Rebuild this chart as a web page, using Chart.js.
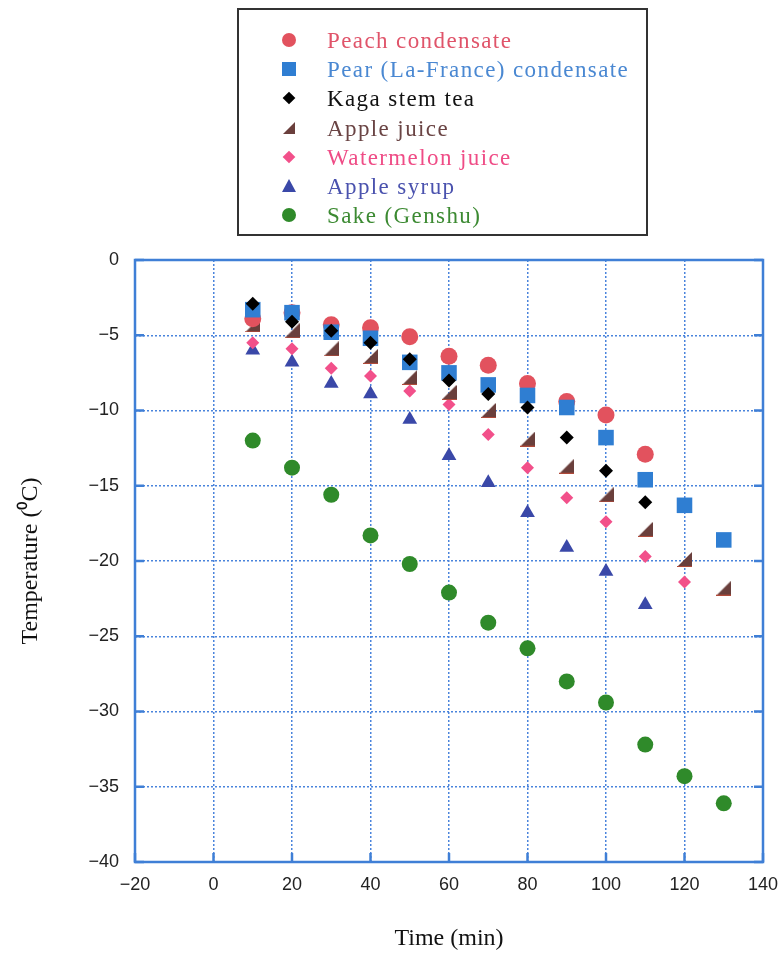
<!DOCTYPE html>
<html>
<head>
<meta charset="utf-8">
<script src="https://cdn.jsdelivr.net/npm/chart.js@4/dist/chart.umd.min.js"></script>
<style>
  html, body { margin: 0; padding: 0; background: #fff; }
  #wrap { position: relative; width: 778px; height: 957px; }
  #legend {
    position: absolute; left: 237px; top: 8px; width: 407px; height: 224px;
    border: 2px solid #333; box-sizing: content-box;
    font-family: "Liberation Serif", serif; font-size: 23px; letter-spacing: 1.4px;
  }
  #legend .row { position: absolute; left: 0; height: 29px; line-height: 29px; white-space: nowrap; }
  #legend .mk { position: absolute; left: 50px; top: 14px; }
  #legend .txt { position: absolute; left: 88px; top: 0; }
</style>
</head>
<body>
<div id="wrap">
  <canvas id="myCanvas" width="778" height="957"></canvas>
  <div id="legend"></div>
</div>
<script>
// temperature readings, every 10 min
const times = [10, 20, 30, 40, 50, 60, 70, 80, 90, 100, 110, 120, 130];

const peach = [-3.9, -3.5, -4.3, -4.5, -5.1, -6.4, -7.0, -8.2, -9.4, -10.3, -12.9];
const pear = [-3.3, -3.5, -4.8, -5.2, -6.8, -7.5, -8.3, -9.0, -9.8, -11.8, -14.6, -16.3, -18.6];
const kaga = [-2.9, -4.1, -4.7, -5.5, -6.6, -8.0, -8.9, -9.8, -11.8, -14.0, -16.1];
const appleJuice = [-4.3, -4.7, -5.9, -6.4, -7.8, -8.8, -10.0, -11.9, -13.7, -15.6, -17.9, -19.9, -21.8];
const watermelon = [-5.5, -5.9, -7.2, -7.7, -8.7, -9.6, -11.6, -13.8, -15.8, -17.4, -19.7, -21.4];
const appleSyrup = [-6.0, -6.8, -8.2, -8.9, -10.6, -13.0, -14.8, -16.8, -19.1, -20.7, -22.9];
const sake = [-12.0, -13.8, -15.6, -18.3, -20.2, -22.1, -24.1, -25.8, -28.0, -29.4, -32.2, -34.3, -36.1];

const seriesNames = ["Peach condensate", "Pear (La-France) condensate", "Kaga stem tea",
    "Apple juice", "Watermelon juice", "Apple syrup", "Sake (Genshu)"];
const xTicks = [-20, 0, 20, 40, 60, 80, 100, 120, 140];
const yTicks = [0, -5, -10, -15, -20, -25, -30, -35, -40];

// right-angled triangle marker for apple juice
function rightTriangle(size, color) {
    const c = document.createElement("canvas");
    c.width = size; c.height = size;
    const g = c.getContext("2d");
    g.fillStyle = color;
    g.beginPath();
    g.moveTo(size, 0);
    g.lineTo(size, size);
    g.lineTo(0, size);
    g.closePath();
    g.fill();
    g.strokeStyle = "#b04a3a";
    g.lineWidth = 1;
    g.beginPath();
    g.moveTo(0, size - 0.5);
    g.lineTo(size, size - 0.5);
    g.stroke();
    return c;
}

function pts(values) {
    return values.map((v, i) => ({ x: times[i], y: v }));
}

const blue = "#3f7fd6";
const minus = v => String(v).replace("-", "\u2212");

const datasets = [
    { label: seriesNames[0], data: pts(peach), pointStyle: "circle", pointRadius: 8.5, backgroundColor: "#e2525e", order: 3, txt: "#e0546a", mk: "circle" },
    { label: seriesNames[1], data: pts(pear), pointStyle: "rect", pointRadius: 11, backgroundColor: "#2f7ed2", order: 2, txt: "#4a88d2", mk: "square" },
    { label: seriesNames[2], data: pts(kaga), pointStyle: "rectRot", pointRadius: 7, backgroundColor: "#000000", order: 1, txt: "#111111", mk: "diamond" },
    { label: seriesNames[3], data: pts(appleJuice), pointStyle: rightTriangle(15, "#6a3f3c"), backgroundColor: "#6a3f3c", order: 4, txt: "#6a4444", mk: "rtri" },
    { label: seriesNames[4], data: pts(watermelon), pointStyle: "rectRot", pointRadius: 6.5, backgroundColor: "#f2508a", order: 5, txt: "#ef4c86", mk: "diamond" },
    { label: seriesNames[5], data: pts(appleSyrup), pointStyle: "triangle", pointRadius: 8.5, backgroundColor: "#3a48a8", order: 6, txt: "#4a52ae", mk: "triangle" },
    { label: seriesNames[6], data: pts(sake), pointStyle: "circle", pointRadius: 8, backgroundColor: "#2f8a2a", order: 7, txt: "#3c8a32", mk: "circle" },
];
datasets.forEach(d => {
    d.borderWidth = 0;
    d.borderColor = d.backgroundColor;
    d.pointBackgroundColor = d.backgroundColor;
    d.pointHoverRadius = d.pointRadius;
});

// blue frame and inward tick marks
const framePlugin = {
    id: "frame",
    beforeDatasetsDraw(chart) {
        const { ctx, chartArea: a, scales } = chart;
        ctx.save();
        ctx.strokeStyle = blue;
        ctx.lineWidth = 2.5;
        ctx.strokeRect(a.left, a.top, a.right - a.left, a.bottom - a.top);
        yTicks.forEach(v => {
            const y = scales.y.getPixelForValue(v);
            ctx.beginPath();
            ctx.moveTo(a.left, y); ctx.lineTo(a.left + 9, y);
            ctx.moveTo(a.right, y); ctx.lineTo(a.right - 9, y);
            ctx.stroke();
        });
        xTicks.forEach(v => {
            const x = scales.x.getPixelForValue(v);
            ctx.beginPath();
            ctx.moveTo(x, a.bottom); ctx.lineTo(x, a.bottom - 9);
            ctx.stroke();
        });
        ctx.restore();
    }
};

const ctx = document.getElementById("myCanvas").getContext("2d");

new Chart(ctx, {
    type: "scatter",
    data: { datasets: datasets },
    plugins: [framePlugin],
    options: {
        responsive: false,
        animation: false,
        layout: { padding: { top: 260, right: 15, left: 0, bottom: 0 } },
        plugins: { legend: { display: false }, tooltip: { enabled: false } },
        scales: {
            x: {
                type: "linear",
                min: -20, max: 140,
                afterBuildTicks: s => { s.ticks = xTicks.map(v => ({ value: v })); },
                afterFit: s => { s.height = 95; s.paddingRight = 0; s.paddingLeft = 0; },
                ticks: { color: "#222", padding: 12, font: { family: "Liberation Sans", size: 18 }, callback: minus },
                grid: { color: "#4a84dc", lineWidth: 1.5, drawTicks: false },
                border: { display: false, dash: [2, 2] },
                title: { display: true, text: "Time (min)", color: "#111", padding: { top: 0, bottom: 4 },
                         font: { family: "Liberation Serif", size: 24 } }
            },
            y: {
                type: "linear",
                min: -40, max: 0,
                afterBuildTicks: s => { s.ticks = yTicks.map(v => ({ value: v })); },
                afterFit: s => { s.width = 135; s.paddingTop = 0; s.paddingBottom = 0; },
                ticks: { color: "#222", padding: 16, font: { family: "Liberation Sans", size: 18 }, callback: minus },
                grid: { color: "#4a84dc", lineWidth: 1.5, drawTicks: false },
                border: { display: false, dash: [2, 2] },
                title: { display: true, text: "Temperature (\u2070C)", color: "#111", padding: { top: 16, bottom: 0 },
                         font: { family: "Liberation Serif", size: 24 } }
            }
        }
    }
});

// legend box, one row per series
const legend = document.getElementById("legend");
datasets.forEach((d, i) => {
    const row = document.createElement("div");
    row.className = "row";
    row.style.top = (16 + i * 29.2) + "px";
    const mk = document.createElement("span");
    mk.className = "mk";
    const c = d.backgroundColor;
    if (d.mk === "circle") {
        mk.style.cssText += `width:14px;height:14px;border-radius:50%;background:${c};transform:translate(-7px,-7px)`;
    } else if (d.mk === "square") {
        mk.style.cssText += `width:14px;height:14px;background:${c};transform:translate(-7px,-7px)`;
    } else if (d.mk === "diamond") {
        mk.style.cssText += `width:9px;height:9px;background:${c};transform:translate(-4.5px,-4.5px) rotate(45deg)`;
    } else if (d.mk === "triangle") {
        mk.style.cssText += `width:0;height:0;border-left:7px solid transparent;border-right:7px solid transparent;border-bottom:13px solid ${c};transform:translate(-7px,-7px)`;
    } else {
        mk.style.cssText += `width:0;height:0;border-left:12px solid transparent;border-bottom:12px solid ${c};transform:translate(-6px,-6px)`;
    }
    const t = document.createElement("span");
    t.className = "txt";
    t.style.color = d.txt;
    t.textContent = d.label;
    row.appendChild(mk);
    row.appendChild(t);
    legend.appendChild(row);
});
</script>
</body>
</html>
